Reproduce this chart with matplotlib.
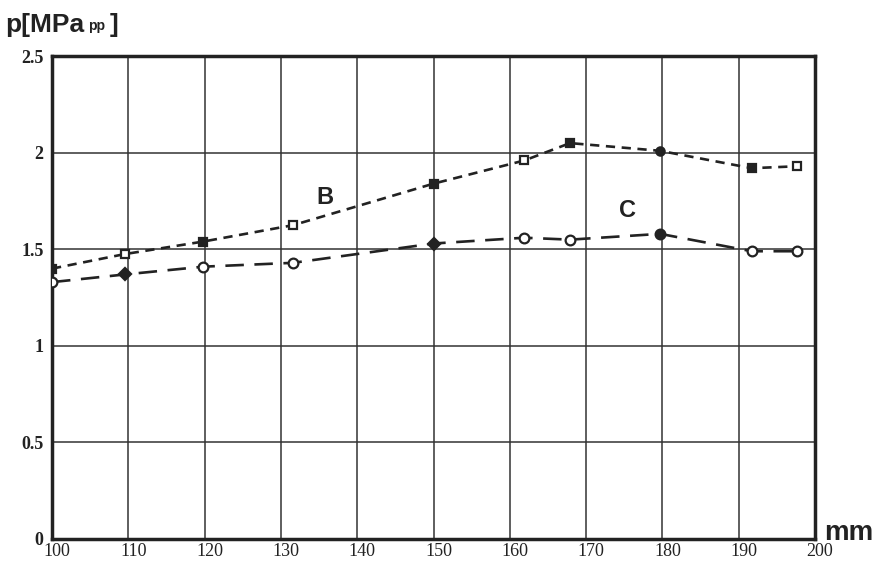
import matplotlib
matplotlib.use('Agg')
import matplotlib.pyplot as plt
import matplotlib.transforms as mtrans
import numpy as np

# curve B (squares, short dashes)
b_x = [100, 109.5, 119.8, 131.6, 150, 161.9, 167.9, 179.7, 191.7, 197.6]
b_p = [1.40, 1.475, 1.54, 1.625, 1.84, 1.96, 2.05, 2.01, 1.92, 1.93]

# curve C (circles, long dashes)
c_x = [100, 109.6, 119.8, 131.6, 150, 161.9, 167.9, 179.7, 191.7, 197.6]
c_p = [1.33, 1.37, 1.41, 1.43, 1.53, 1.56, 1.55, 1.58, 1.49, 1.49]

x_ticks = [100, 110, 120, 130, 140, 150, 160, 170, 180, 190, 200]
y_ticks = [0, 0.5, 1, 1.5, 2, 2.5]
y_labels = ['0', '0.5', '1', '1.5', '2', '2.5']

# marker styles per point (filled or open)
b_marks = [('s', True), ('s', False), ('s', True), ('s', False), ('s', True),
           ('s', False), ('s', True), ('o', True), ('s', True), ('s', False)]
c_marks = [('o', False), ('D', True), ('o', False), ('o', False), ('D', True),
           ('o', False), ('o', False), ('o', True), ('o', False), ('o', False)]

ink = '#222222'

fig = plt.figure(figsize=(8.76, 5.62), dpi=100)
ax = fig.add_axes([0.0594, 0.041, 0.871, 0.859])

ax.plot(b_x, b_p, color=ink, lw=1.9, dashes=(3.5, 2.5))
ax.plot(c_x, c_p, color=ink, lw=1.9, dashes=(7, 4))

for x, y, (m, filled) in zip(b_x, b_p, b_marks):
    ax.plot(x, y, marker=m, ms=6, mec=ink, mew=1.6,
            mfc=ink if filled else 'white', ls='none', zorder=4)
for x, y, (m, filled) in zip(c_x, c_p, c_marks):
    ax.plot(x, y, marker=m, ms=7 if m == 'o' else 6, mec=ink, mew=1.6,
            mfc=ink if filled else 'white', ls='none', zorder=4)

ax.text(135.8, 1.77, 'B', fontsize=17, fontweight='bold', color=ink,
        ha='center', va='center', family='Liberation Sans')
ax.text(175.4, 1.70, 'C', fontsize=17, fontweight='bold', color=ink,
        ha='center', va='center', family='Liberation Sans')

ax.set_xlim(100, 200)
ax.set_ylim(0, 2.5)
ax.set_xticks(x_ticks)
ax.set_yticks(y_ticks, y_labels)
ax.grid(True, color='#333333', lw=1.1)
ax.set_axisbelow(True)
ax.tick_params(length=0, labelsize=13, colors=ink)
ax.tick_params(axis='y', pad=6)
ax.tick_params(axis='x', pad=3)
shift = mtrans.ScaledTranslation(5 / 100, 0, fig.dpi_scale_trans)
for lbl in ax.get_xticklabels():
    lbl.set_family('Liberation Serif')
    lbl.set_transform(lbl.get_transform() + shift)
for lbl in ax.get_yticklabels():
    lbl.set_family('Liberation Serif')
    lbl.set_fontweight('bold')
for s in ax.spines.values():
    s.set_linewidth(2.5)
    s.set_color(ink)

fig.text(0.006, 0.943, 'p[MPa', fontsize=19, fontweight='bold', color=ink,
         va='baseline', ha='left', family='Liberation Sans')
fig.text(0.101, 0.946, 'pp', fontsize=10, fontweight='bold', color=ink,
         va='baseline', ha='left', family='Liberation Sans')
fig.text(0.125, 0.943, ']', fontsize=19, fontweight='bold', color=ink,
         va='baseline', ha='left', family='Liberation Sans')
fig.text(0.941, 0.040, 'mm', fontsize=20, fontweight='bold', color=ink,
         va='baseline', ha='left', family='Liberation Sans')

plt.savefig('out.png', dpi=100)
